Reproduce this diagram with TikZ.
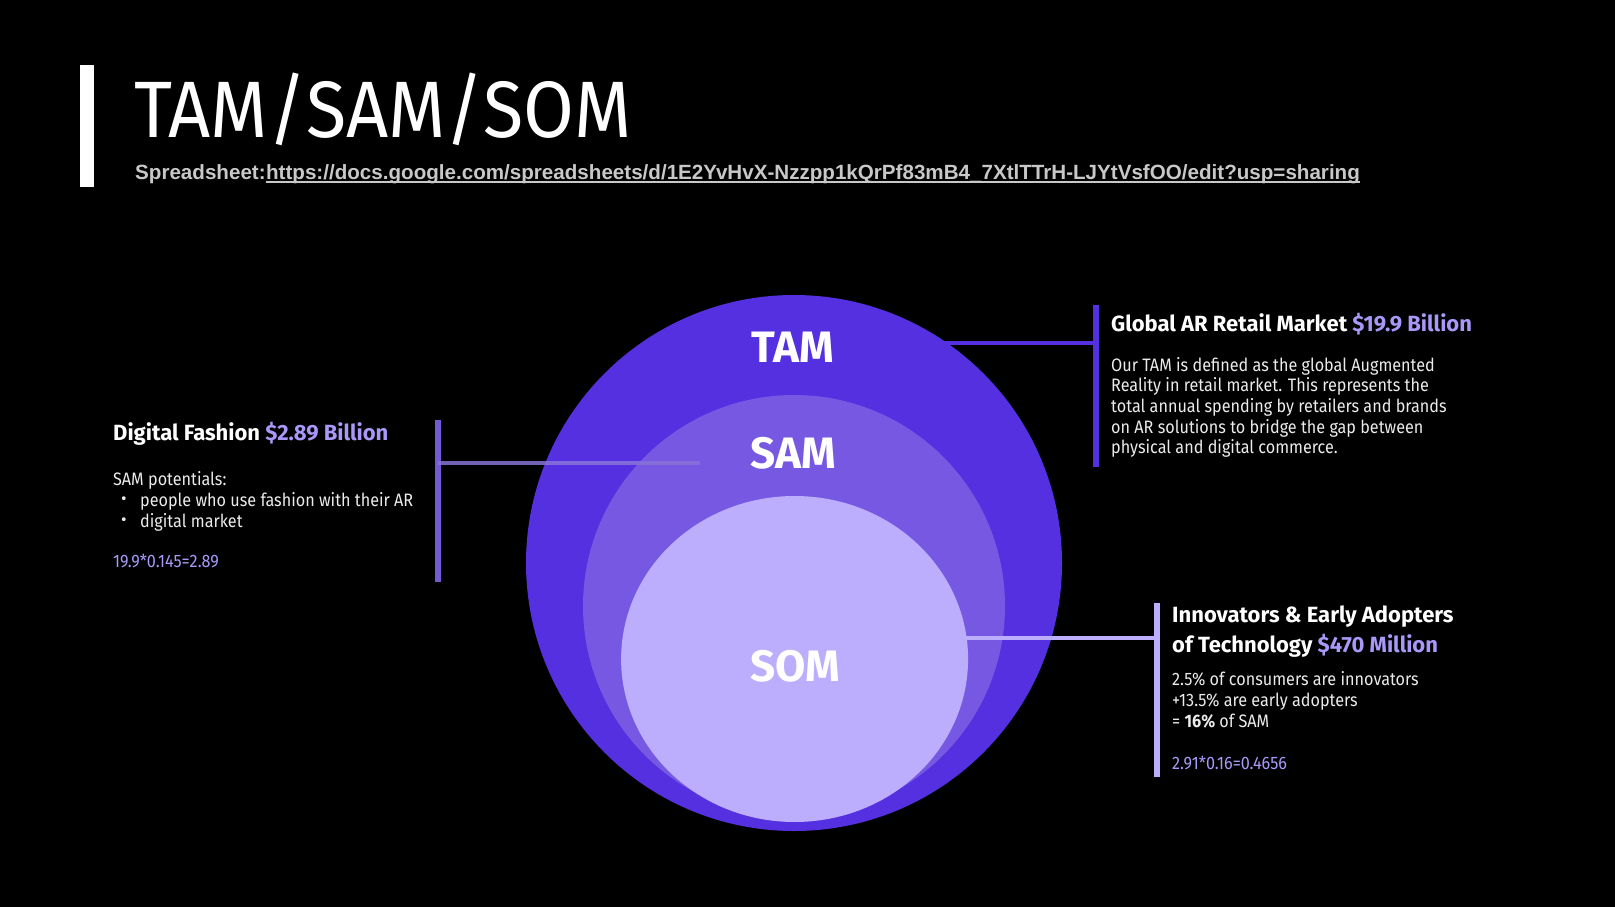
\documentclass[tikz,border=0pt]{standalone}
\usepackage{fontspec}
\setmainfont{Fira Sans}
\newfontfamily\bodyfont{Fira Sans}[FakeStretch=0.9]
\newfontfamily\titlefont{Fira Sans}[FakeStretch=0.92]
\newfontfamily\linkfont{Liberation Sans}
\usetikzlibrary{positioning}

\definecolor{tamc}{RGB}{85,48,224}
\definecolor{samc}{RGB}{118,88,226}
\definecolor{somc}{RGB}{188,174,252}
\definecolor{hilite}{RGB}{170,152,248}
\definecolor{linkgray}{RGB}{200,200,200}
\definecolor{samline}{RGB}{115,90,210}

\tikzset{
  heading/.style={anchor=base west, inner sep=0pt, text=white, font=\fontsize{22}{26}\selectfont\bfseries},
  body/.style={anchor=base west, inner sep=0pt, text=white!92!black, font=\bodyfont\fontsize{18}{21}\selectfont},
  bulletdot/.style={anchor=base west, inner sep=0pt, text=white!92!black, font=\fontsize{17}{18}\selectfont},
  ringlabel/.style={inner sep=0pt, text=white, font=\fontsize{44}{48}\selectfont\bfseries},
  bar/.style={line width=6pt},
}

\begin{document}
\begin{tikzpicture}[x=1pt,y=-1pt]
    \fill [black] (0,0) rectangle (1615,907);
    \useasboundingbox (0,0) rectangle (1615,907);

    % title
    \fill [white] (80,65) rectangle (94,187);
    \node [anchor=base west, inner sep=0pt, text=white, font=\titlefont\fontsize{80}{90}\selectfont] (title) at (134,137) {TAM/SAM/SOM};
    \node [anchor=base west, inner sep=0pt, text=linkgray, font=\linkfont\bfseries\fontsize{20.6}{24}\selectfont] (sheet) at (135,179) {Spreadsheet:};
    \node [anchor=base west, inner sep=0pt, text=linkgray, font=\linkfont\bfseries\fontsize{20.6}{24}\selectfont] (url) at (sheet.base east) {https://docs.google.com/spreadsheets/d/1E2YvHvX-Nzzpp1kQrPf83mB4\_7XtlTTrH-LJYtVsfOO/edit?usp=sharing};
    \draw [linkgray, line width=1.3pt] ([yshift=-3pt]url.base west) -- ([yshift=-3pt]url.base east);

    % circles
    \coordinate (tamc) at (794,563);
    \coordinate (samc) at (794,606);
    \coordinate (somc) at (794.6,659);
    \fill [tamc] (tamc) circle (268);
    \fill [samc] (samc) circle (211);
    \fill [somc] (somc) ellipse [x radius=173.5, y radius=163];
    \node [ringlabel] (tamlbl) at (793,347) {TAM};
    \node [ringlabel] (samlbl) at (793,453) {SAM};
    \node [ringlabel] (somlbl) at (795,666) {SOM};

    % TAM note
    \coordinate (tamtop) at (1096,305);
    \coordinate (tambot) at (1096,467);
    \coordinate (tamedge) at (945,343);
    \coordinate (tamhit) at (1096,343);
    \draw [bar, tamc] (tamtop) -- (tambot);
    \draw [tamc, line width=4.5pt] (tamedge) -- (tamhit);
    \node [heading] (tamhead) at (1111,331) {Global AR Retail Market \textcolor{hilite}{\$19.9 Billion}};
    \foreach \txt [count=\i from 0] in {Our TAM is defined as the global Augmented,
        Reality in retail market. This represents the,
        total annual spending by retailers and brands,
        on AR solutions to bridge the gap between,
        physical and digital commerce.}
      \node [body] (tamline\i) at (1111,371+20.7*\i) {\txt};

    % SAM note
    \coordinate (samtop) at (438,420);
    \coordinate (sambot) at (438,582);
    \coordinate (samhit) at (438,463);
    \coordinate (saminner) at (700,463);
    \draw [bar, samline] (samtop) -- (sambot);
    \draw [samline!85!white, opacity=0.85, line width=4.5pt] (samhit) -- (saminner);
    \node [heading] (samhead) at (113,440) {Digital Fashion \textcolor{hilite}{\$2.89 Billion}};
    \node [body] (samintro) at (113,485) {SAM potentials:};
    \node [bulletdot] (dot1) at (121,504) {\textbullet};
    \node [body] (pot1) at (140,506) {people who use fashion with their AR};
    \node [bulletdot] (dot2) at (121,525) {\textbullet};
    \node [body] (pot2) at (140,527) {digital market};
    \node [body, text=hilite] (samcalc) at (113,567) {19.9*0.145=2.89};

    % SOM note
    \coordinate (somtop) at (1157,603);
    \coordinate (sombot) at (1157,777);
    \coordinate (somedge) at (966,638);
    \coordinate (somhit) at (1157,638);
    \draw [bar, somc] (somtop) -- (sombot);
    \draw [somc, line width=4.5pt] (somedge) -- (somhit);
    \node [heading] (somhead1) at (1172,622) {Innovators \& Early Adopters};
    \node [heading] (somhead2) at (1172,652) {of Technology \textcolor{hilite}{\$470 Million}};
    \node [body] (somline1) at (1172,685) {2.5\% of consumers are innovators};
    \node [body] (somline2) at (1172,706) {+13.5\% are early adopters};
    \node [body] (somline3) at (1172,727) {= \textbf{16\%} of SAM};
    \node [body, text=hilite] (somcalc) at (1172,769) {2.91*0.16=0.4656};
\end{tikzpicture}
\end{document}
